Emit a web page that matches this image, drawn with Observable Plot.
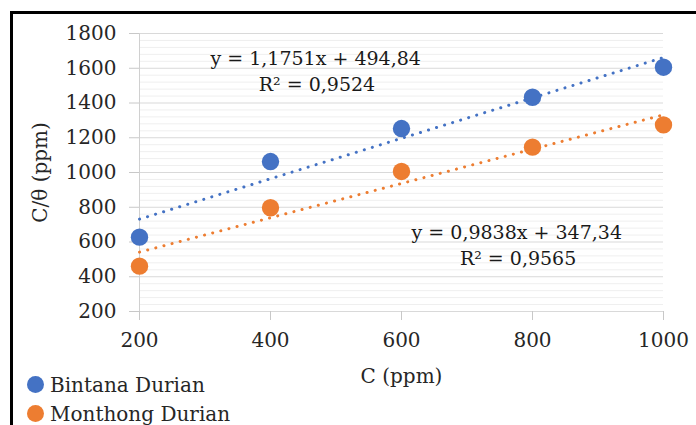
<!DOCTYPE html>
<html>
<head>
<meta charset="utf-8">
<script src="https://cdn.jsdelivr.net/npm/d3@7"></script>
<script src="https://cdn.jsdelivr.net/npm/@observablehq/plot@0.6"></script>
<style>
  html, body { margin: 0; padding: 0; background: #fff; width: 696px; height: 425px; overflow: hidden; }
  #frame { position: absolute; left: 10px; top: 11px; width: 720px; height: 440px; border: 3px solid #000; box-sizing: border-box; }
  #chart { position: absolute; left: 0; top: 0; }
  #legend { position: absolute; left: 27px; top: 370px; font-family: "DejaVu Serif", serif; font-size: 20px; color: #262626; }
  .item { display: flex; align-items: center; height: 29px; }
  .sw { width: 17px; height: 17px; border-radius: 50%; margin-right: 6px; }
</style>
</head>
<body>
<div id="frame"></div>
<div id="chart"></div>
<div id="legend"></div>
<script>
const concentrations = [200, 400, 600, 800, 1000];
const bintanaValues = [628, 1063, 1253, 1433, 1606];
const monthongValues = [461, 797, 1006, 1146, 1274];
const seriesNames = ["Bintana Durian", "Monthong Durian"];
const seriesColors = ["#4472C4", "#ED7D31"];
const xTicks = [200, 400, 600, 800, 1000];
const yTicks = [200, 400, 600, 800, 1000, 1200, 1400, 1600, 1800];
const equations = ["y = 1,1751x + 494,84", "y = 0,9838x + 347,34"];
const rSquared = ["R² = 0,9524", "R² = 0,9565"];

const data = [
  ...concentrations.map((c, i) => ({series: seriesNames[0], x: c, y: bintanaValues[i]})),
  ...concentrations.map((c, i) => ({series: seriesNames[1], x: c, y: monthongValues[i]}))
];
const minorTicks = d3.range(200, 1800.1, 40).filter(v => !yTicks.includes(v));

const font = "DejaVu Serif, serif";
const plain = d => String(d);
const chart = Plot.plot({
  width: 696,
  height: 425,
  marginLeft: 139,
  marginRight: 33,
  marginTop: 33,
  marginBottom: 114,
  style: {fontFamily: font, fontSize: "20px", color: "#404040", background: "transparent"},
  x: {domain: [200, 1000]},
  y: {domain: [200, 1800]},
  color: {domain: seriesNames, range: seriesColors},
  marks: [
    Plot.ruleY(minorTicks, {stroke: "#efefef", strokeWidth: 1}),
    Plot.ruleY(yTicks, {stroke: "#d9d9d9", strokeWidth: 1}),
    Plot.ruleX([200], {stroke: "#d0d0d0", strokeWidth: 1}),
    Plot.axisY(yTicks, {ticks: yTicks, tickFormat: plain, tickSize: 10, tickPadding: 13, stroke: "#c8c8c8", strokeOpacity: 1, fill: "#262626", label: null, fontSize: 20}),
    Plot.axisX(xTicks, {ticks: xTicks, tickFormat: plain, tickSize: 9, tickPadding: 12, stroke: "#c8c8c8", strokeOpacity: 1, fill: "#262626", label: null, fontSize: 20}),
    Plot.text(["C (ppm)"], {frameAnchor: "bottom", x: 600, dy: 65, lineAnchor: "middle", fill: "#262626", fontSize: 20}),
    Plot.text(["C/θ (ppm)"], {frameAnchor: "left", y: 1000, dx: -99, rotate: -90, lineAnchor: "middle", textAnchor: "middle", fill: "#262626", fontSize: 20}),
    Plot.linearRegressionY(data, {x: "x", y: "y", stroke: "series", ci: 0, strokeWidth: 3, strokeDasharray: "0.1,8.3", strokeLinecap: "round"}),
    Plot.dot(data, {x: "x", y: "y", fill: "series", r: 8.7}),
    Plot.text([equations[0]], {x: 469, y: 1656, fill: "#1a1a1a", fontSize: 19}),
    Plot.text([rSquared[0]], {x: 471, y: 1506, fill: "#1a1a1a", fontSize: 19}),
    Plot.text([equations[1]], {x: 776, y: 655, fill: "#1a1a1a", fontSize: 19}),
    Plot.text([rSquared[1]], {x: 778, y: 505, fill: "#1a1a1a", fontSize: 19})
  ]
});
document.getElementById("chart").appendChild(chart);

const legend = document.getElementById("legend");
seriesNames.forEach((name, i) => {
  const item = document.createElement("div");
  item.className = "item";
  const sw = document.createElement("div");
  sw.className = "sw";
  sw.style.background = seriesColors[i];
  const label = document.createElement("span");
  label.textContent = name;
  item.appendChild(sw);
  item.appendChild(label);
  legend.appendChild(item);
});
</script>
</body>
</html>
